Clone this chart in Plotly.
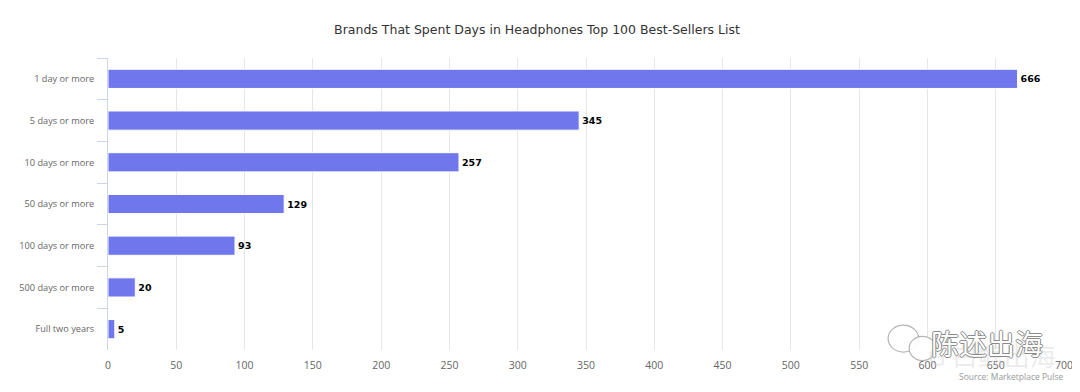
import plotly.graph_objects as go

categories = ["1 day or more", "5 days or more", "10 days or more", "50 days or more",
              "100 days or more", "500 days or more", "Full two years"]
values = [666, 345, 257, 129, 93, 20, 5]
x_ticks = list(range(0, 701, 50))

fig = go.Figure(go.Bar(
    x=values, y=categories, orientation="h",
    marker=dict(color="#7077ec", line=dict(width=1, color="#ffffff")),
    text=[str(v) for v in values], textposition="outside",
    texttemplate="<b>%{text}</b>",
    textfont=dict(family="DejaVu Sans", size=9.5, color="#000000"),
    cliponaxis=False, width=0.46,
))

# page body has an 8px margin, so the figure is offset by (8, 8)
fig.update_layout(
    width=1072, height=384,
    margin=dict(l=100, r=16, t=50, b=42),
    paper_bgcolor="#ffffff", plot_bgcolor="#ffffff",
    showlegend=False,
    title=dict(text="Brands That Spent Days in Headphones Top 100 Best-Sellers List",
               x=0.4935, xanchor="center", y=0.943, yanchor="middle",
               font=dict(family="DejaVu Sans", size=12.5, color="#333333")),
    font=dict(family="Open Sans", size=10, color="#666666"),
)
fig.update_xaxes(range=[0, 700], tickvals=x_ticks, showgrid=True, gridcolor="#e6e6e6",
                 zeroline=False, showline=False, ticks="", ticklabelstandoff=7,
                 automargin=False, tickfont=dict(family="Open Sans", size=10.5, color="#666666"))
fig.update_yaxes(categoryorder="array", categoryarray=categories, autorange="reversed",
                 showline=True, linecolor="#ccd6eb", linewidth=1,
                 ticks="outside", tickson="boundaries", ticklen=10, tickcolor="#ccd6eb",
                 showgrid=False, automargin=False, ticklabelstandoff=11,
                 tickfont=dict(family="Open Sans", size=9.2, color="#666666"))

# faint background watermark
fig.add_annotation(text="G 白鲸出海", xref="paper", yref="paper", x=0.925, y=-0.017,
                   xanchor="center", yanchor="middle", showarrow=False,
                   font=dict(family="Noto Sans CJK SC", size=26, color="rgba(200,200,200,0.35)"))
# chat icon
fig.add_shape(type="circle", xref="paper", yref="paper",
              x0=0.816, x1=0.848, y0=-0.007, y1=0.085,
              line=dict(color="rgba(150,150,150,0.7)", width=1.2), fillcolor="rgba(255,255,255,0.8)")
fig.add_shape(type="circle", xref="paper", yref="paper",
              x0=0.838, x1=0.866, y0=-0.036, y1=0.047,
              line=dict(color="rgba(150,150,150,0.7)", width=1.2), fillcolor="rgba(255,255,255,0.9)")
fig.add_annotation(text="陈述出海", xref="paper", yref="paper", x=0.980, y=0.024,
                   xanchor="right", yanchor="middle", showarrow=False,
                   font=dict(family="Noto Sans CJK SC", size=28, color="#ffffff",
                             shadow="1px 0 0 #8a8a8a, -1px 0 0 #8a8a8a, 0 1px 0 #8a8a8a, 0 -1px 0 #8a8a8a"))
fig.add_annotation(text="Source: Marketplace Pulse", xref="paper", yref="paper",
                   x=1.002, y=-0.092, xanchor="right", yanchor="middle", showarrow=False,
                   font=dict(family="Open Sans", size=8.5, color="#999999"))

fig.write_html("out.html")
